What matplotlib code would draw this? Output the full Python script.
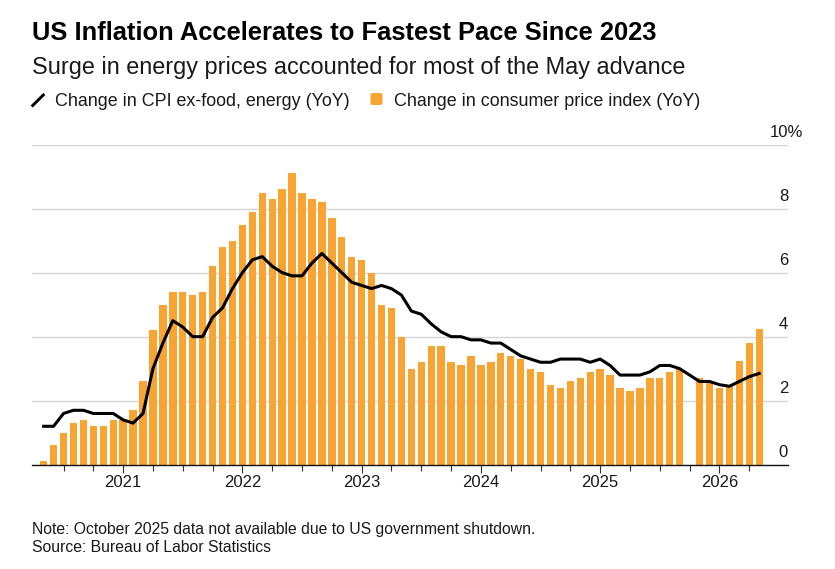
import numpy as np
import pandas as pd
import matplotlib
matplotlib.use("Agg")
import matplotlib.pyplot as plt
from matplotlib.lines import Line2D
from matplotlib.patches import FancyBboxPatch
from matplotlib.transforms import blended_transform_factory

plt.rcParams['font.family'] = ['Liberation Sans', 'DejaVu Sans']

W, H = 835, 569

# monthly, May 2020 .. May 2026 (Oct 2025 not published)
months = pd.date_range('2020-05-01', periods=73, freq='MS')

cpi = [0.1, 0.6, 1.0, 1.3, 1.4, 1.2, 1.2, 1.4,
       1.4, 1.7, 2.6, 4.2, 5.0, 5.4, 5.4, 5.3, 5.4, 6.2, 6.8, 7.0,
       7.5, 7.9, 8.5, 8.3, 8.6, 9.1, 8.5, 8.3, 8.2, 7.7, 7.1, 6.5,
       6.4, 6.0, 5.0, 4.9, 4.0, 3.0, 3.2, 3.7, 3.7, 3.2, 3.1, 3.4,
       3.1, 3.2, 3.5, 3.4, 3.3, 3.0, 2.9, 2.5, 2.4, 2.6, 2.7, 2.9,
       3.0, 2.8, 2.4, 2.3, 2.4, 2.7, 2.7, 2.9, 3.0, np.nan, 2.7, 2.6,
       2.4, 2.45, 3.25, 3.8, 4.25]

core = [1.2, 1.2, 1.6, 1.7, 1.7, 1.6, 1.6, 1.6,
        1.4, 1.3, 1.6, 3.0, 3.8, 4.5, 4.3, 4.0, 4.0, 4.6, 4.9, 5.5,
        6.0, 6.4, 6.5, 6.2, 6.0, 5.9, 5.9, 6.3, 6.6, 6.3, 6.0, 5.7,
        5.6, 5.5, 5.6, 5.5, 5.3, 4.8, 4.7, 4.4, 4.15, 4.0, 4.0, 3.9,
        3.9, 3.8, 3.8, 3.6, 3.4, 3.3, 3.2, 3.2, 3.3, 3.3, 3.3, 3.2,
        3.3, 3.1, 2.8, 2.8, 2.8, 2.9, 3.1, 3.1, 3.0, np.nan, 2.6, 2.6,
        2.5, 2.45, 2.6, 2.75, 2.85]

y_ticks = [0, 2, 4, 6, 8, 10]

orange = '#F8A433'
ink = '#1a1a1a'

def fx(px):
    return px / W

def fy(py):
    return 1 - py / H

fig = plt.figure(figsize=(W / 100, H / 100), dpi=100)
ax = fig.add_axes([fx(31.7), fy(464.7), fx(788) - fx(31.7), fy(144.6) - fy(464.7)])

x = np.arange(len(months))
cpi = np.array(cpi)
core = np.array(core)

ok = ~np.isnan(cpi)
ax.bar(x[ok], cpi[ok], width=0.74, color=orange, zorder=2)
ok = ~np.isnan(core)
ax.plot(x[ok], core[ok], color='black', lw=2.2, zorder=3, solid_joinstyle='round')

ax.set_xlim(-1.2, 74.9)
ax.set_ylim(0, 10)

# grid
ax.set_yticks(y_ticks)
ax.yaxis.grid(True, color='#d6d6d6', lw=1.0, zorder=0)
ax.tick_params(axis='y', length=0, labelleft=False)
trans = blended_transform_factory(ax.transAxes, ax.transData)
for v in y_ticks:
    label = str(v)
    dx = 0
    if v == y_ticks[-1]:
        label += '%'
        dx = 10.6   # let the % hang past the right edge
    ax.annotate(label, xy=(1.0, v), xycoords=trans, xytext=(dx, 5.5),
                textcoords='offset points', ha='right', va='baseline',
                fontsize=12, color=ink)

# x ticks: years major, quarters minor
major = [i for i, m in enumerate(months) if m.month == 1]
minor = [i for i, m in enumerate(months) if m.month in (4, 7, 10)]
ax.set_xticks(major)
ax.set_xticklabels([str(months[i].year) for i in major])
ax.set_xticks(minor, minor=True)
ax.tick_params(axis='x', which='major', length=5.8, width=0.8, color='#333333',
               pad=1.8, labelsize=12, labelcolor=ink)
ax.tick_params(axis='x', which='minor', length=4.0, width=0.8, color='#333333')

for s in ['top', 'right', 'left']:
    ax.spines[s].set_visible(False)
ax.spines['bottom'].set_color('#111111')
ax.spines['bottom'].set_linewidth(1.0)
ax.spines['bottom'].set_zorder(4)

# header
fig.text(fx(32), fy(40), 'US Inflation Accelerates to Fastest Pace Since 2023',
         fontsize=18.4, fontweight='bold', color='black', va='baseline')
fig.text(fx(32), fy(74), 'Surge in energy prices accounted for most of the May advance',
         fontsize=16.9, color=ink, va='baseline')

# legend
fig.add_artist(Line2D([fx(32.7), fx(43.3)], [fy(105.5), fy(95)], color='black',
                      lw=2.1, transform=fig.transFigure))
fig.text(fx(55), fy(105.7), 'Change in CPI ex-food, energy (YoY)',
         fontsize=12.9, color=ink, va='baseline')
fig.add_artist(FancyBboxPatch((fx(370.5), fy(105)), fx(12), fy(93) - fy(105),
                              boxstyle='round,pad=0,rounding_size=0.003',
                              facecolor=orange, edgecolor='none',
                              transform=fig.transFigure))
fig.text(fx(393.5), fy(105.7), 'Change in consumer price index (YoY)',
         fontsize=12.9, color=ink, va='baseline')

# footnotes
fig.text(fx(31.7), fy(534), 'Note: October 2025 data not available due to US government shutdown.',
         fontsize=11.3, color=ink, va='baseline')
fig.text(fx(31.7), fy(551.7), 'Source: Bureau of Labor Statistics',
         fontsize=11.3, color=ink, va='baseline')

fig.savefig('out.png', dpi=100)
